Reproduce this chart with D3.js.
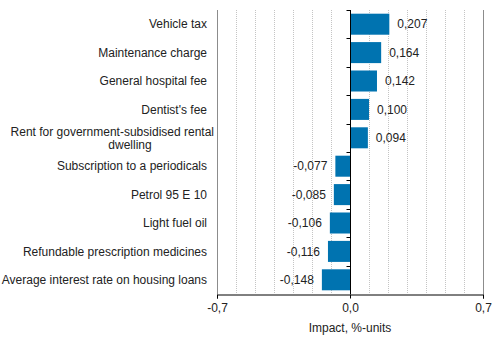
<!DOCTYPE html>
<html>
<head>
<meta charset="utf-8">
<script src="https://cdn.jsdelivr.net/npm/d3@7"></script>
<style>
  body { margin: 0; background: #fff; }
  text { font-family: "Liberation Sans", Arial, sans-serif; font-size: 12px; fill: #222; }
</style>
</head>
<body>
<div id="chart"></div>
<script>
const categories = [
  'Vehicle tax',
  'Maintenance charge',
  'General hospital fee',
  "Dentist's fee",
  'Rent for government-subsidised rental|dwelling',
  'Subscription to a periodicals',
  'Petrol 95 E 10',
  'Light fuel oil',
  'Refundable prescription medicines',
  'Average interest rate on housing loans'
];
const values = [0.207, 0.164, 0.142, 0.100, 0.094, -0.077, -0.085, -0.106, -0.116, -0.148];
const axisTicks = [-0.7, 0, 0.7];
const axisTitle = 'Impact, %-units';

const width = 499, height = 337;
const margin = { top: 10, right: 16, bottom: 43, left: 217 };
// comma decimals, plain hyphen for minus
const comma = s => s.replace('.', ',').replace('\u2212', '-');
const fmt = d => comma(d3.format('.3f')(d));

const svg = d3.select('#chart').append('svg')
  .attr('width', width).attr('height', height);

const x = d3.scaleLinear().domain([-0.7, 0.7]).range([margin.left, width - margin.right]);
const y = d3.scaleBand().domain(d3.range(categories.length))
  .range([margin.top, height - margin.bottom]).paddingInner(0.26).paddingOuter(0.13);
const band = d3.scaleBand().domain(d3.range(categories.length))
  .range([margin.top, height - margin.bottom]);

// grid lines every 0.1
const grid = d3.range(-7, 8).map(d => d / 10);
svg.append('g').selectAll('line').data(grid).enter().append('line')
  .attr('x1', d => Math.round(x(d)) + 0.5).attr('x2', d => Math.round(x(d)) + 0.5)
  .attr('y1', margin.top).attr('y2', height - margin.bottom)
  .attr('stroke', d => Math.abs(d) > 0.65 ? '#8c8c8c' : '#c4c4c4')
  .attr('stroke-dasharray', d => Math.abs(d) > 0.65 ? null : '1,1');

// bars
svg.append('g').selectAll('rect').data(values).enter().append('rect')
  .attr('x', d => x(Math.min(0, d)))
  .attr('y', (d, i) => y(i))
  .attr('width', d => Math.abs(x(d) - x(0)))
  .attr('height', y.bandwidth())
  .attr('fill', '#0073b0');

// value labels
svg.append('g').selectAll('text').data(values).enter().append('text')
  .attr('x', d => d >= 0 ? x(d) + 8 : x(d) - 8)
  .attr('y', (d, i) => y(i) + y.bandwidth() / 2)
  .attr('dy', '0.35em')
  .attr('text-anchor', d => d >= 0 ? 'start' : 'end')
  .text(d => fmt(d));

// zero axis with category ticks
const zx = Math.round(x(0)) + 0.5;
svg.append('line').attr('x1', zx).attr('x2', zx)
  .attr('y1', margin.top).attr('y2', height - margin.bottom).attr('stroke', '#000');
svg.append('g').selectAll('line').data(d3.range(categories.length)).enter().append('line')
  .attr('x1', zx - 4).attr('x2', zx)
  .attr('y1', d => Math.round(band(d)) + 0.5).attr('y2', d => Math.round(band(d)) + 0.5)
  .attr('stroke', '#000');

// category labels
const labels = svg.append('g');
categories.forEach((c, i) => {
  const parts = c.split('|');
  const cy = band(i) + band.bandwidth() / 2;
  if (parts.length === 1) {
    labels.append('text').attr('x', margin.left - 10).attr('y', cy).attr('dy', '0.35em')
      .attr('text-anchor', 'end').text(c);
  } else {
    labels.append('text').attr('x', margin.left - 3).attr('y', cy - 6).attr('dy', '0.35em')
      .attr('text-anchor', 'end').text(parts[0]);
    labels.append('text').attr('x', margin.left - 87).attr('y', cy + 7).attr('dy', '0.35em')
      .attr('text-anchor', 'middle').text(parts[1]);
  }
});

// bottom axis
const xAxis = d3.axisBottom(x).tickValues(axisTicks).tickSize(4)
  .tickFormat(d => comma(d3.format('.1f')(d)));
const ax = svg.append('g').attr('transform', `translate(0,${height - margin.bottom + 0.5})`).call(xAxis);
ax.select('.domain').attr('stroke', '#000');
ax.selectAll('.tick line').attr('stroke', '#000');
ax.selectAll('.tick text').attr('dy', '0.85em').style('font-size', '12px')
  .style('font-family', '"Liberation Sans", Arial, sans-serif').attr('fill', '#222');

svg.append('text').attr('x', x(0)).attr('y', height - 5)
  .attr('text-anchor', 'middle').text(axisTitle);
</script>
</body>
</html>
